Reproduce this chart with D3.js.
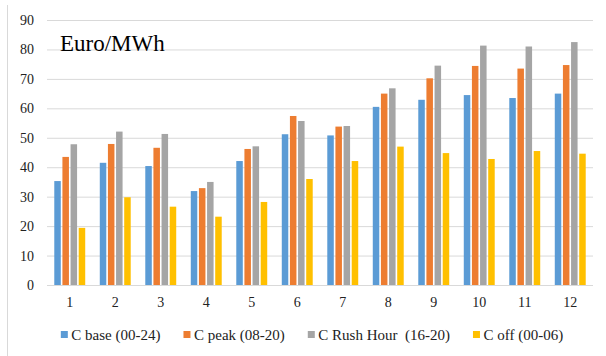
<!DOCTYPE html>
<html>
<head>
<meta charset="utf-8">
<script src="https://cdn.jsdelivr.net/npm/d3@7"></script>
<style>
  html, body { margin: 0; padding: 0; background: #fff; }
  svg { display: block; }
</style>
</head>
<body>
<svg id="chart" width="606" height="356" font-family="Liberation Serif"></svg>
<script>
// Monthly prices per time band
const months = ["1", "2", "3", "4", "5", "6", "7", "8", "9", "10", "11", "12"];
const seriesNames = ["C base (00-24)", "C peak (08-20)", "C Rush Hour  (16-20)", "C off (00-06)"];
const baseValues = [35.3, 41.5, 40.4, 31.9, 42.1, 51.2, 50.8, 60.5, 62.9, 64.5, 63.5, 65.0];
const peakValues = [43.5, 47.9, 46.6, 32.9, 46.2, 57.4, 53.8, 65.0, 70.2, 74.4, 73.5, 74.7];
const rushValues = [47.8, 52.1, 51.3, 35.0, 47.1, 55.7, 54.0, 66.8, 74.5, 81.3, 81.0, 82.5];
const offValues  = [19.4, 29.8, 26.6, 23.2, 28.2, 36.0, 42.1, 47.0, 44.8, 42.8, 45.5, 44.6];
const yTicks = [0, 10, 20, 30, 40, 50, 60, 70, 80, 90];
const unitLabel = "Euro/MWh";

const seriesValues = [baseValues, peakValues, rushValues, offValues];
const colors = ["#5B9BD5", "#ED7D31", "#A5A5A5", "#FFC000"];
const FONT = "Liberation Serif";

const svg = d3.select("#chart");
const plot = { left: 47, right: 593, top: 20, bottom: 285 };

// outer frame edge
svg.append("line")
  .attr("x1", 7.5).attr("x2", 7.5).attr("y1", 5).attr("y2", 356)
  .attr("stroke", "#d9d9d9").attr("stroke-width", 1);

const x0 = d3.scaleBand().domain(months).range([plot.left, plot.right])
  .paddingInner(0.32).paddingOuter(0.16);
const x1 = d3.scaleBand().domain(d3.range(seriesNames.length))
  .range([0, x0.bandwidth()]).paddingInner(0.2);
const y = d3.scaleLinear().domain([0, 90]).range([plot.bottom, plot.top]);

// gridlines + y labels
const yAxis = svg.append("g")
  .attr("transform", `translate(${plot.left},0)`)
  .call(d3.axisLeft(y).tickValues(yTicks).tickSize(-(plot.right - plot.left)).tickPadding(13));
yAxis.attr("font-family", FONT).attr("font-size", 14);
yAxis.select(".domain").remove();
yAxis.selectAll(".tick line").attr("stroke", "#d9d9d9").attr("stroke-width", 1);
yAxis.selectAll(".tick text").attr("fill", "#222").attr("font-family", FONT);

// x labels
const xAxis = svg.append("g")
  .attr("transform", `translate(0,${plot.bottom})`)
  .call(d3.axisBottom(x0).tickSize(0).tickPadding(12));
xAxis.attr("font-family", FONT).attr("font-size", 14);
xAxis.select(".domain").remove();
xAxis.selectAll(".tick text").attr("fill", "#222").attr("font-family", FONT);

// bars
const groups = svg.append("g").selectAll("g")
  .data(months)
  .join("g")
  .attr("transform", d => `translate(${x0(d)},0)`);

groups.selectAll("rect")
  .data((m, i) => seriesValues.map((vals, s) => ({ s, v: vals[i] })))
  .join("rect")
  .attr("x", d => x1(d.s))
  .attr("width", x1.bandwidth())
  .attr("y", d => y(d.v))
  .attr("height", d => y(0) - y(d.v))
  .attr("fill", d => colors[d.s]);

// unit title inside plot
svg.append("text")
  .attr("x", 60).attr("y", 50.5)
  .attr("font-family", FONT)
  .attr("font-size", 23).attr("fill", "#000")
  .text(unitLabel);

// legend, centred below the axis
const legend = svg.append("g");
const items = legend.selectAll("g").data(seriesNames).join("g");
items.append("rect")
  .attr("width", 7).attr("height", 7).attr("y", 331)
  .attr("fill", (d, i) => colors[i]);
items.append("text")
  .attr("x", 10.5).attr("y", 339.5)
  .attr("font-family", FONT)
  .attr("font-size", 15).attr("fill", "#222")
  .attr("xml:space", "preserve")
  .style("white-space", "pre")
  .text(d => d);
let cursor = 0;
const offsets = [];
items.each(function () {
  const w = 10.5 + d3.select(this).select("text").node().getComputedTextLength();
  offsets.push(cursor);
  cursor += w + 23;
});
const total = cursor - 23;
const startX = 312 - total / 2;
items.attr("transform", (d, i) => `translate(${startX + offsets[i]},0)`);
</script>
</body>
</html>
